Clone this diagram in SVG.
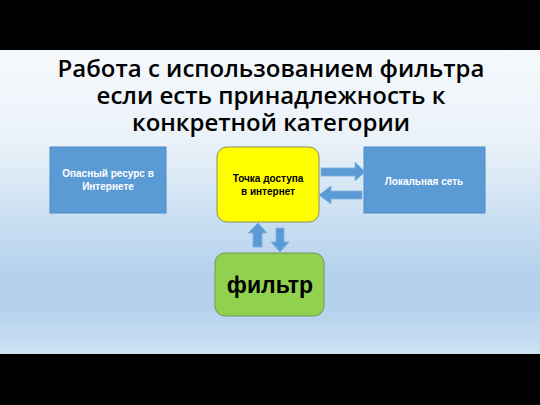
<svg xmlns="http://www.w3.org/2000/svg" width="540" height="405" viewBox="0 0 540 405">
<defs>
<linearGradient id="bg" x1="0" y1="0" x2="0" y2="1">
<stop offset="0" stop-color="#f6f9fc"/>
<stop offset="0.3" stop-color="#eaf2f9"/>
<stop offset="0.75" stop-color="#b2d0ec"/>
<stop offset="0.85" stop-color="#b4d2ed"/>
<stop offset="1" stop-color="#cde2f4"/>
</linearGradient>
<style>
.title{font-family:"Open Sans","Liberation Sans",Arial,sans-serif;font-weight:600;font-size:24px;fill:#000;text-anchor:middle}
.lbl{font-family:"Liberation Sans",Arial,sans-serif;font-weight:bold;font-size:10px;text-anchor:middle}
.blue{fill:#5b9bd5;stroke:#4f8cc7;stroke-width:1}
.arr{fill:#5b9bd5;stroke:#7fb0de;stroke-width:0.8}
</style>
</defs>
<rect x="0" y="0" width="540" height="405" fill="#000"/>
<rect x="0" y="50" width="540" height="304" fill="url(#bg)"/>
<text class="title" x="271" y="77">Работа с использованием фильтра</text>
<text class="title" x="271" y="104">если есть принадлежность к</text>
<text class="title" x="271" y="131">конкретной категории</text>

<g id="danger">
<rect class="blue" x="50" y="147" width="116" height="66"/>
<text class="lbl" x="108" y="177" fill="#fff">Опасный ресурс в</text>
<text class="lbl" x="108" y="190" fill="#fff">Интернете</text>
</g>
<g id="ap">
<rect x="217" y="147" width="102" height="75" rx="10" fill="#ffff00" stroke="#8c8c5a" stroke-width="1"/>
<text class="lbl" x="268" y="182" fill="#000">Точка доступа</text>
<text class="lbl" x="268" y="195" fill="#000">в интернет</text>
</g>
<g id="lan">
<rect class="blue" x="364" y="147" width="121" height="66"/>
<text class="lbl" x="424" y="185" fill="#fff">Локальная сеть</text>
</g>
<g id="filter">
<rect x="215" y="253" width="109" height="63" rx="10" fill="#92d050" stroke="#6e9a55" stroke-width="1"/>
<text x="270" y="293" font-family="Liberation Sans,Arial,sans-serif" font-weight="bold" font-size="23" text-anchor="middle" fill="#000">фильтр</text>
</g>
<g id="connectors">
<polygon class="arr" points="321,168 355,168 355,162 365,172 355,181 355,176 321,176"/>
<polygon class="arr" points="362,191 331,191 331,186 319,195 331,204 331,199 362,199"/>
<polygon class="arr" points="253,247 253,233 248,233 258,223 267,233 262,233 262,247"/>
<polygon class="arr" points="276,228 284,228 284,242 289,242 280,252 271,242 276,242"/>
</g>
</svg>
